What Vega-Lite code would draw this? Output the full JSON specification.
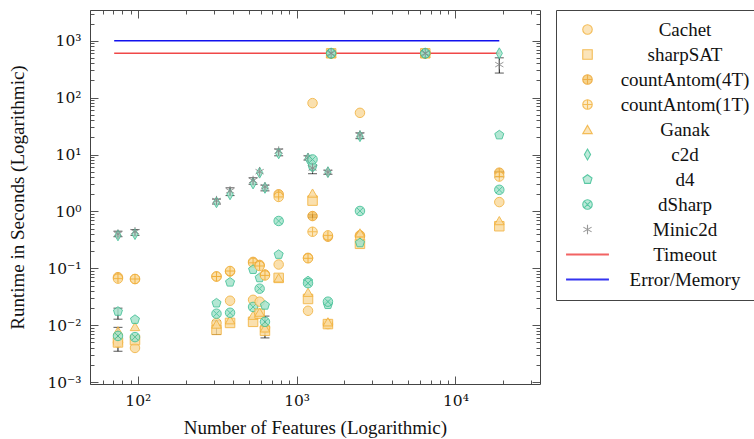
{
  "$schema": "https://vega.github.io/schema/vega-lite/v6.json",
  "width": 450,
  "height": 374,
  "padding": {"left": 8, "top": 9, "right": 2, "bottom": 0},
  "config": {
    "font": "Liberation Serif",
    "view": {"stroke": null},
    "axis": {"labelFont": "DejaVu Serif", "titleFont": "Liberation Serif", "labelFontSize": 15.5, "titleFontSize": 19, "titleFontWeight": "normal", "labelColor": "#111", "titleColor": "#111", "domainColor": "#444", "tickColor": "#555", "grid": false},
    "legend": {"labelFont": "Liberation Serif", "labelFontSize": 19, "labelColor": "#111"}
  },
  "resolve": {"axis": {"x": "independent", "y": "independent"}},
  "layer": [
    {
      "data": {"values": [
        {"s": "Timeout", "x1": 71, "x2": 18900, "y": 600},
        {"s": "Error/Memory", "x1": 71, "x2": 18900, "y": 1000}
      ]},
      "mark": {"type": "rule", "strokeWidth": 1.6},
      "encoding": {
        "x": {"field": "x1", "type": "quantitative", "scale": {"type": "log", "domain": [50, 34100], "nice": false},
              "axis": {"orient": "top", "labels": false, "title": null, "domainColor": "#444",
                       "values": [50,60,70,80,90,100,200,300,400,500,600,700,800,900,1000,2000,3000,4000,5000,6000,7000,8000,9000,10000,20000,30000],
                       "tickSize": {"condition": {"test": "abs(log(datum.value)/LN10 - round(log(datum.value)/LN10)) < 0.001", "value": -8}, "value": -4}}},
        "x2": {"field": "x2"},
        "y": {"field": "y", "type": "quantitative", "scale": {"type": "log", "domain": [0.00093, 3460], "nice": false},
              "axis": {"orient": "right", "labels": false, "title": null, "domainColor": "#444",
                       "values": [0.001,0.002,0.003,0.004,0.005,0.006,0.007,0.008,0.009,0.01,0.02,0.03,0.04,0.05,0.06,0.07,0.08,0.09,0.1,0.2,0.3,0.4,0.5,0.6,0.7,0.8,0.9,1,2,3,4,5,6,7,8,9,10,20,30,40,50,60,70,80,90,100,200,300,400,500,600,700,800,900,1000,2000,3000],
                       "tickSize": {"condition": {"test": "abs(log(datum.value)/LN10 - round(log(datum.value)/LN10)) < 0.001", "value": -8}, "value": -4}}},
        "stroke": {"field": "s", "type": "nominal"}
      }
    },
    {
      "data": {"values": [
        {"x": 75, "lo": 0.36, "hi": 0.45},
        {"x": 75, "lo": 0.0128, "hi": 0.020},
        {"x": 75, "lo": 0.0035, "hi": 0.0092},
        {"x": 96, "lo": 0.38, "hi": 0.48},
        {"x": 313, "lo": 1.35, "hi": 1.65},
        {"x": 313, "lo": 0.0069, "hi": 0.012},
        {"x": 381, "lo": 1.9, "hi": 2.6},
        {"x": 532, "lo": 3.0, "hi": 3.9},
        {"x": 632, "lo": 2.3, "hi": 2.9},
        {"x": 632, "lo": 0.006, "hi": 0.0145},
        {"x": 771, "lo": 9.5, "hi": 12.5},
        {"x": 1180, "lo": 8.0, "hi": 9.5},
        {"x": 1260, "lo": 4.6, "hi": 6.5},
        {"x": 1260, "lo": 0.78, "hi": 0.88},
        {"x": 1575, "lo": 4.5, "hi": 5.3},
        {"x": 2506, "lo": 19, "hi": 24},
        {"x": 18900, "lo": 270, "hi": 500},
        {"x": 18900, "lo": 4.0, "hi": 5.0}
      ]},
      "mark": {"type": "errorbar", "color": "#111", "ticks": {"size": 9}},
      "encoding": {
        "x": {"field": "x", "type": "quantitative", "scale": {"type": "log"}, "axis": null},
        "y": {"field": "lo", "type": "quantitative", "scale": {"type": "log"}, "axis": null},
        "y2": {"field": "hi"}
      }
    },
    {
      "data": {"values": [
        {"x": 75, "s": "Cachet", "t": 0.005}, {"x": 75, "s": "sharpSAT", "t": 0.005}, {"x": 75, "s": "countAntom(4T)", "t": 0.07}, {"x": 75, "s": "countAntom(1T)", "t": 0.066}, {"x": 75, "s": "Ganak", "t": 0.008}, {"x": 75, "s": "c2d", "t": 0.38}, {"x": 75, "s": "d4", "t": 0.0175}, {"x": 75, "s": "dSharp", "t": 0.0065}, {"x": 75, "s": "Minic2d", "t": 0.40},
        {"x": 96, "s": "Cachet", "t": 0.004}, {"x": 96, "s": "sharpSAT", "t": 0.0055}, {"x": 96, "s": "countAntom(4T)", "t": 0.065}, {"x": 96, "s": "countAntom(1T)", "t": 0.065}, {"x": 96, "s": "Ganak", "t": 0.0095}, {"x": 96, "s": "c2d", "t": 0.40}, {"x": 96, "s": "d4", "t": 0.0126}, {"x": 96, "s": "dSharp", "t": 0.0062}, {"x": 96, "s": "Minic2d", "t": 0.44},
        {"x": 313, "s": "Cachet", "t": 0.011}, {"x": 313, "s": "sharpSAT", "t": 0.0083}, {"x": 313, "s": "countAntom(4T)", "t": 0.072}, {"x": 313, "s": "countAntom(1T)", "t": 0.072}, {"x": 313, "s": "Ganak", "t": 0.0105}, {"x": 313, "s": "c2d", "t": 1.45}, {"x": 313, "s": "d4", "t": 0.0245}, {"x": 313, "s": "dSharp", "t": 0.016}, {"x": 313, "s": "Minic2d", "t": 1.55},
        {"x": 381, "s": "Cachet", "t": 0.027}, {"x": 381, "s": "sharpSAT", "t": 0.011}, {"x": 381, "s": "countAntom(4T)", "t": 0.088}, {"x": 381, "s": "countAntom(1T)", "t": 0.09}, {"x": 381, "s": "Ganak", "t": 0.0125}, {"x": 381, "s": "c2d", "t": 2.0}, {"x": 381, "s": "d4", "t": 0.057}, {"x": 381, "s": "dSharp", "t": 0.0166}, {"x": 381, "s": "Minic2d", "t": 2.3},
        {"x": 532, "s": "Cachet", "t": 0.028}, {"x": 532, "s": "sharpSAT", "t": 0.0115}, {"x": 532, "s": "countAntom(4T)", "t": 0.13}, {"x": 532, "s": "countAntom(1T)", "t": 0.125}, {"x": 532, "s": "Ganak", "t": 0.015}, {"x": 532, "s": "c2d", "t": 3.1}, {"x": 532, "s": "d4", "t": 0.095}, {"x": 532, "s": "dSharp", "t": 0.021}, {"x": 532, "s": "Minic2d", "t": 3.5},
        {"x": 585, "s": "Cachet", "t": 0.026}, {"x": 585, "s": "sharpSAT", "t": 0.016}, {"x": 585, "s": "countAntom(4T)", "t": 0.115}, {"x": 585, "s": "countAntom(1T)", "t": 0.11}, {"x": 585, "s": "Ganak", "t": 0.017}, {"x": 585, "s": "c2d", "t": 4.8}, {"x": 585, "s": "d4", "t": 0.068}, {"x": 585, "s": "dSharp", "t": 0.044}, {"x": 585, "s": "Minic2d", "t": 5.0},
        {"x": 632, "s": "Cachet", "t": 0.009}, {"x": 632, "s": "sharpSAT", "t": 0.008}, {"x": 632, "s": "countAntom(4T)", "t": 0.078}, {"x": 632, "s": "countAntom(1T)", "t": 0.075}, {"x": 632, "s": "Ganak", "t": 0.009}, {"x": 632, "s": "c2d", "t": 2.6}, {"x": 632, "s": "d4", "t": 0.0224}, {"x": 632, "s": "dSharp", "t": 0.0115}, {"x": 632, "s": "Minic2d", "t": 2.7},
        {"x": 771, "s": "Cachet", "t": 0.117}, {"x": 771, "s": "sharpSAT", "t": 0.068}, {"x": 771, "s": "countAntom(4T)", "t": 2.0}, {"x": 771, "s": "countAntom(1T)", "t": 1.8}, {"x": 771, "s": "Ganak", "t": 0.068}, {"x": 771, "s": "c2d", "t": 10.5}, {"x": 771, "s": "d4", "t": 0.175}, {"x": 771, "s": "dSharp", "t": 0.68}, {"x": 771, "s": "Minic2d", "t": 11.5},
        {"x": 1180, "s": "Cachet", "t": 0.018}, {"x": 1180, "s": "sharpSAT", "t": 0.029}, {"x": 1180, "s": "countAntom(4T)", "t": 0.153}, {"x": 1180, "s": "countAntom(1T)", "t": 0.15}, {"x": 1180, "s": "Ganak", "t": 0.038}, {"x": 1180, "s": "c2d", "t": 8.5}, {"x": 1180, "s": "d4", "t": 0.06}, {"x": 1180, "s": "dSharp", "t": 0.055}, {"x": 1180, "s": "Minic2d", "t": 8.8},
        {"x": 1260, "s": "Cachet", "t": 80}, {"x": 1260, "s": "sharpSAT", "t": 1.55}, {"x": 1260, "s": "countAntom(4T)", "t": 0.83}, {"x": 1260, "s": "countAntom(1T)", "t": 0.44}, {"x": 1260, "s": "Ganak", "t": 2.1}, {"x": 1260, "s": "c2d", "t": 6.0}, {"x": 1260, "s": "d4", "t": 6.2}, {"x": 1260, "s": "dSharp", "t": 8.2}, {"x": 1260, "s": "Minic2d", "t": 5.8},
        {"x": 1575, "s": "Cachet", "t": 0.0105}, {"x": 1575, "s": "sharpSAT", "t": 0.0105}, {"x": 1575, "s": "countAntom(4T)", "t": 0.36}, {"x": 1575, "s": "countAntom(1T)", "t": 0.38}, {"x": 1575, "s": "Ganak", "t": 0.0115}, {"x": 1575, "s": "c2d", "t": 4.9}, {"x": 1575, "s": "d4", "t": 0.023}, {"x": 1575, "s": "dSharp", "t": 0.026}, {"x": 1575, "s": "Minic2d", "t": 4.9},
        {"x": 1650, "s": "Cachet", "t": 600}, {"x": 1650, "s": "sharpSAT", "t": 600}, {"x": 1650, "s": "countAntom(4T)", "t": 600}, {"x": 1650, "s": "countAntom(1T)", "t": 600}, {"x": 1650, "s": "Ganak", "t": 600}, {"x": 1650, "s": "c2d", "t": 600}, {"x": 1650, "s": "d4", "t": 600}, {"x": 1650, "s": "dSharp", "t": 600}, {"x": 1650, "s": "Minic2d", "t": 600},
        {"x": 2506, "s": "Cachet", "t": 54}, {"x": 2506, "s": "sharpSAT", "t": 0.27}, {"x": 2506, "s": "countAntom(4T)", "t": 0.38}, {"x": 2506, "s": "countAntom(1T)", "t": 0.36}, {"x": 2506, "s": "Ganak", "t": 0.42}, {"x": 2506, "s": "c2d", "t": 21}, {"x": 2506, "s": "d4", "t": 0.28}, {"x": 2506, "s": "dSharp", "t": 1.02}, {"x": 2506, "s": "Minic2d", "t": 22},
        {"x": 6460, "s": "Cachet", "t": 600}, {"x": 6460, "s": "sharpSAT", "t": 600}, {"x": 6460, "s": "countAntom(4T)", "t": 600}, {"x": 6460, "s": "countAntom(1T)", "t": 600}, {"x": 6460, "s": "Ganak", "t": 600}, {"x": 6460, "s": "c2d", "t": 600}, {"x": 6460, "s": "d4", "t": 600}, {"x": 6460, "s": "dSharp", "t": 600}, {"x": 6460, "s": "Minic2d", "t": 600},
        {"x": 18900, "s": "Cachet", "t": 1.46}, {"x": 18900, "s": "sharpSAT", "t": 0.55}, {"x": 18900, "s": "countAntom(4T)", "t": 4.8}, {"x": 18900, "s": "countAntom(1T)", "t": 4.1}, {"x": 18900, "s": "Ganak", "t": 0.69}, {"x": 18900, "s": "c2d", "t": 600}, {"x": 18900, "s": "d4", "t": 22}, {"x": 18900, "s": "dSharp", "t": 2.4}, {"x": 18900, "s": "Minic2d", "t": 380}
      ]},
      "mark": {"type": "point", "filled": false, "size": 90, "strokeWidth": 1, "opacity": 0.85},
      "encoding": {
        "x": {"field": "x", "type": "quantitative", "scale": {"type": "log"},
              "axis": {"orient": "bottom", "title": "Number of Features (Logarithmic)", "titlePadding": 10, "labelPadding": 17, "domainColor": "#444",
                       "values": [50,60,70,80,90,100,200,300,400,500,600,700,800,900,1000,2000,3000,4000,5000,6000,7000,8000,9000,10000,20000,30000],
                       "labelExpr": "abs(log(datum.value)/LN10 - round(log(datum.value)/LN10)) < 0.001 ? '10' + ['⁻³','⁻²','⁻¹','⁰','¹','²','³','⁴','⁵'][round(log(datum.value)/LN10)+3] : ''",
                       "tickSize": {"condition": {"test": "abs(log(datum.value)/LN10 - round(log(datum.value)/LN10)) < 0.001", "value": -8}, "value": -4}}},
        "y": {"field": "t", "type": "quantitative", "scale": {"type": "log"},
              "axis": {"orient": "left", "title": "Runtime in Seconds (Logarithmic)", "titlePadding": 19, "labelPadding": 17, "domainColor": "#444",
                       "values": [0.001,0.002,0.003,0.004,0.005,0.006,0.007,0.008,0.009,0.01,0.02,0.03,0.04,0.05,0.06,0.07,0.08,0.09,0.1,0.2,0.3,0.4,0.5,0.6,0.7,0.8,0.9,1,2,3,4,5,6,7,8,9,10,20,30,40,50,60,70,80,90,100,200,300,400,500,600,700,800,900,1000,2000,3000],
                       "labelExpr": "abs(log(datum.value)/LN10 - round(log(datum.value)/LN10)) < 0.001 ? '10' + ['⁻³','⁻²','⁻¹','⁰','¹','²','³','⁴','⁵'][round(log(datum.value)/LN10)+3] : ''",
                       "tickSize": {"condition": {"test": "abs(log(datum.value)/LN10 - round(log(datum.value)/LN10)) < 0.001", "value": -8}, "value": -4}}},
        "shape": {"field": "s", "type": "nominal",
                  "scale": {"domain": ["Cachet","sharpSAT","countAntom(4T)","countAntom(1T)","Ganak","c2d","d4","dSharp","Minic2d","Timeout","Error/Memory"],
                            "range": ["circle","square",
                                      "M-1,0A1,1,0,1,1,1,0A1,1,0,1,1,-1,0ZM-1,0L1,0M0,-1L0,1",
                                      "M-1,0A1,1,0,1,1,1,0A1,1,0,1,1,-1,0ZM-1,0L1,0M0,-1L0,1",
                                      "triangle-up",
                                      "M0,-1.15L0.65,0L0,1.15L-0.65,0Z",
                                      "M0,-1L0.951,-0.309L0.588,0.809L-0.588,0.809L-0.951,-0.309Z",
                                      "M-1,0A1,1,0,1,1,1,0A1,1,0,1,1,-1,0ZM-0.707,-0.707L0.707,0.707M-0.707,0.707L0.707,-0.707",
                                      "M0,-1L0,1M-0.866,-0.5L0.866,0.5M-0.866,0.5L0.866,-0.5",
                                      "M-4.4,-0.1L4.4,-0.1L4.4,0.1L-4.4,0.1Z", "M-4.4,-0.1L4.4,-0.1L4.4,0.1L-4.4,0.1Z"]},
                  "legend": {"title": null, "orient": "right", "offset": 15, "padding": 10, "strokeColor": "#444", "fillColor": "white",
                             "labelAlign": "center", "labelOffset": 88, "symbolOffset": 12, "rowPadding": 5, "symbolStrokeWidth": 1.1, "symbolSize": 90, "labelLimit": 300}},
        "fill": {"field": "s", "type": "nominal",
                 "scale": {"domain": ["Cachet","sharpSAT","countAntom(4T)","countAntom(1T)","Ganak","c2d","d4","dSharp","Minic2d","Timeout","Error/Memory"],
                           "range": ["#fadba0","#fadba0","#f5c462","#fce3b0","#fadba0","#a6e3cc","#a6e3cc","#a6e3cc","#bbbbbb","#ee2222","#1111ee"]},
                 "legend": {"title": null}},
        "stroke": {"field": "s", "type": "nominal",
                   "scale": {"domain": ["Cachet","sharpSAT","countAntom(4T)","countAntom(1T)","Ganak","c2d","d4","dSharp","Minic2d","Timeout","Error/Memory"],
                             "range": ["#f2b13a","#f2b13a","#eca22a","#f2b13a","#f2b13a","#3dbf94","#3dbf94","#3dbf94","#888888","#f04848","#1111ee"]},
                   "legend": {"title": null}}
      }
    }
  ]
}
